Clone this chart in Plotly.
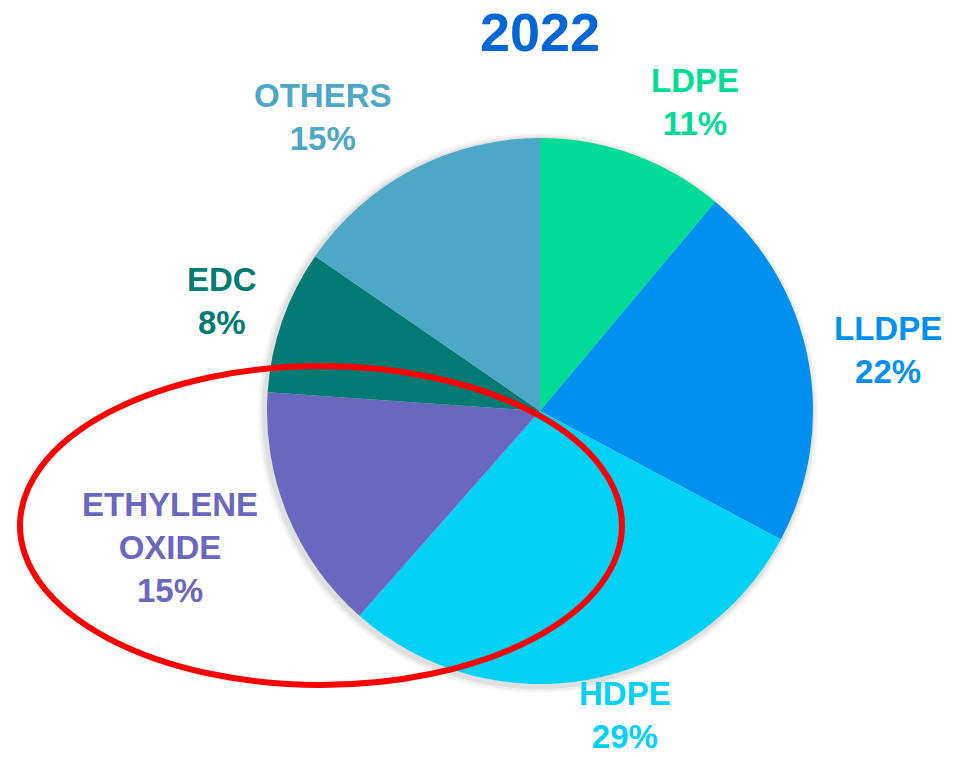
import plotly.graph_objects as go

# Data (slice sizes; labels show rounded shares)
labels = ["LDPE", "LLDPE", "HDPE", "ETHYLENE OXIDE", "EDC", "OTHERS"]
values = [11.1, 21.7, 28.7, 14.6, 8.5, 15.4]
shown_pct = [11, 22, 29, 15, 8, 15]
colors = ["#00DC96", "#0091F0", "#00D2F5", "#6A67C1", "#007A73", "#4DA7C7"]
title_text = "2022"

W, H = 961, 757

# Layout positions (pixel centres) for label blocks
label_pos = [(695, 102), (888, 350), (625, 715), (170, 547), (222, 301), (323, 117)]

def px(x):
    return x / W

def py(y):
    return 1 - y / H

cx, cy, r = 540, 411, 273

fig = go.Figure()

# soft shadow
for k, (d, a) in enumerate([(7, 0.03), (5, 0.04), (3, 0.06)]):
    sx, sy = cx - 2, cy + 2
    fig.add_trace(go.Pie(
        values=[1], sort=False, textinfo="none", hoverinfo="skip", showlegend=False,
        marker=dict(colors=[f"rgba(0,0,0,{a})"], line=dict(width=0)),
        domain=dict(x=[px(sx - r - d), px(sx + r + d)], y=[py(sy + r + d), py(sy - r - d)]),
    ))

fig.add_trace(go.Pie(
    labels=labels,
    values=values,
    sort=False,
    direction="clockwise",
    rotation=0,
    marker=dict(colors=colors, line=dict(width=0)),
    textinfo="none",
    showlegend=False,
    domain=dict(x=[px(cx - r), px(cx + r)], y=[py(cy + r), py(cy - r)]),
))

annotations = []
for lab, val, col, (lx, ly) in zip(labels, shown_pct, colors, label_pos):
    annotations.append(dict(
        x=px(lx), y=py(ly), xref="paper", yref="paper",
        text=f"<b>{lab.replace(' ', '<br>')}<br>{val}%</b>",
        showarrow=False, xanchor="center", yanchor="middle",
        font=dict(family="Liberation Sans, Arial", size=33, color=col),
    ))
annotations.append(dict(
    x=px(540), y=py(32), xref="paper", yref="paper",
    text=f"<b>{title_text}</b>", showarrow=False,
    xanchor="center", yanchor="middle",
    font=dict(family="Liberation Sans, Arial", size=54, color="#0066D6"),
))

# Red highlight ellipse
ex0, ex1, ey0, ey1 = 20, 622, 366, 685
shapes = [dict(
    type="circle", xref="paper", yref="paper",
    x0=px(ex0), x1=px(ex1), y0=py(ey1), y1=py(ey0),
    line=dict(color="#FF0000", width=6), layer="above",
)]

fig.update_layout(
    width=W, height=H,
    margin=dict(l=0, r=0, t=0, b=0),
    paper_bgcolor="white", plot_bgcolor="white",
    annotations=annotations,
    shapes=shapes,
)

fig.write_html("out.html")
